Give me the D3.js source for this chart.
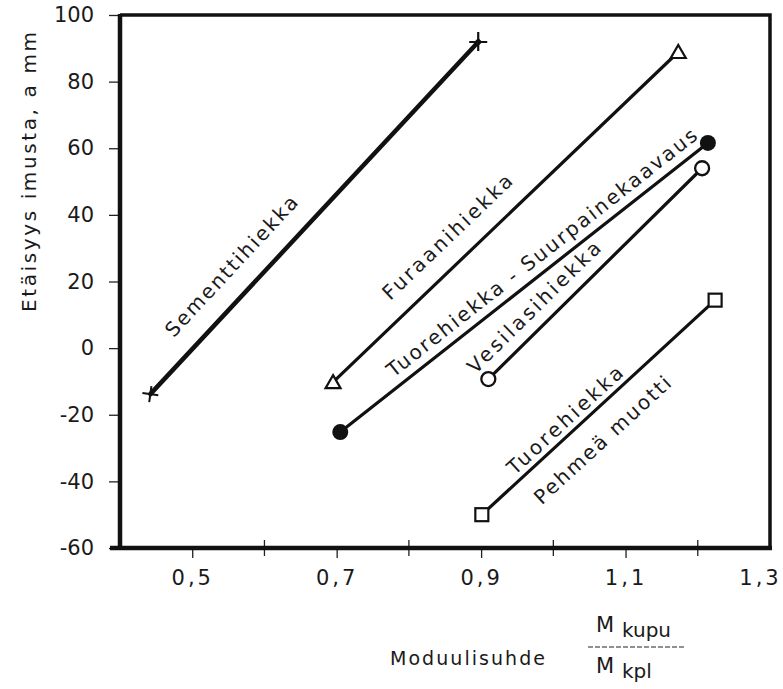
<!DOCTYPE html>
<html>
<head>
<meta charset="utf-8">
<script src="https://cdn.jsdelivr.net/npm/d3@7"></script>
<style>
  body { margin: 0; background: #fff; }
  text { font-family: "DejaVu Sans", sans-serif; fill: #1a1a1a; }
</style>
</head>
<body>
<div id="chart"></div>
<script>
"use strict";

// moduulisuhde (x) and etäisyys imusta (y) for each curve: [start, end]
const curveNames = ["Sementtihiekka", "Furaanihiekka", "Tuorehiekka - Suurpainekaavaus", "Vesilasihiekka", "Tuorehiekka / Pehmeä muotti"];
const moduuliX = [[0.442, 0.896], [0.695, 1.173], [0.705, 1.214], [0.91, 1.206], [0.901, 1.224]];
const etaisyysY = [[-13.8, 91.9], [-10.2, 88.9], [-25.2, 61.6], [-9.3, 54.0], [-50.0, 14.4]];
const startMarkers = ["plus", "triangle", "dot", "circle", "square"];
const endMarkers = ["star", "triangle", "dot", "circle", "square"];

const yTicks = [100, 80, 60, 40, 20, 0, -20, -40, -60];
const xMajorTicks = [0.5, 0.7, 0.9, 1.1, 1.3];
const xMinorTicks = [0.6, 0.8, 1.0, 1.2];

// text along the lines: label, curve index, centre in data units
const lineLabels = [
    { text: "Sementtihiekka", curve: 0, x: 0.554, y: 24.6, len: 184 },
    { text: "Furaanihiekka", curve: 1, x: 0.853, y: 33.4, len: 171 },
    { text: "Tuorehiekka - Suurpainekaavaus", curve: 2, x: 0.984, y: 28.7, len: 388 },
    { text: "Vesilasihiekka", curve: 3, x: 0.973, y: 12.3, len: 178 },
    { text: "Tuorehiekka", curve: 4, x: 1.016, y: -21.6, len: 149 },
    { text: "Pehmeä muotti", curve: 4, x: 1.068, y: -27.6, len: 178 }
];

const width = 783, height = 689;
const margin = { top: 15, right: 13, bottom: 141, left: 120 };

const svg = d3.select("#chart").append("svg")
    .attr("width", width)
    .attr("height", height);

const x = d3.scaleLinear()
    .domain([0.4, 1.3])
    .range([margin.left, width - margin.right]);

const y = d3.scaleLinear()
    .domain([-60, 100])
    .range([height - margin.bottom, margin.top]);

// **************** Frame and axes ****************
const x0 = x(0.4), x1 = x(1.3), y0 = y(-60), y1 = y(100);

svg.append("path")
    .attr("d", `M${x0},${y1} L${x1},${y1} L${x1},${y0}`)
    .attr("fill", "none")
    .attr("stroke", "#111")
    .attr("stroke-width", 3.5);

const yAxis = svg.append("g")
    .attr("transform", `translate(${x0},0)`)
    .call(d3.axisLeft(y).tickValues(yTicks).tickSize(11).tickPadding(15).tickFormat(d3.format("d")));

yAxis.select(".domain").remove();
yAxis.selectAll(".tick line").attr("stroke", "#222").attr("stroke-width", 1.3);
yAxis.selectAll(".tick text")
    .attr("font-size", 21)
    .attr("font-family", "DejaVu Sans, sans-serif")
    .attr("fill", "#1a1a1a")
    .text(d => d < 0 ? "-" + Math.abs(d) : d);

const xAxis = svg.append("g")
    .attr("transform", `translate(0,${y0})`)
    .call(d3.axisBottom(x).tickValues(xMajorTicks).tickSize(10).tickPadding(12)
        .tickFormat(d => d3.format(".1f")(d).replace(".", ",")));

xAxis.select(".domain").remove();
xAxis.selectAll(".tick line")
    .attr("stroke", "#222").attr("stroke-width", 1.3)
    .attr("display", d => d === 1.3 ? "none" : null);
xAxis.selectAll(".tick text")
    .attr("font-size", 21)
    .attr("letter-spacing", 3)
    .attr("dx", d => d === 1.3 ? -10 : 0)
    .attr("font-family", "DejaVu Sans, sans-serif")
    .attr("fill", "#1a1a1a");

svg.append("g").selectAll("line")
    .data(xMinorTicks)
    .join("line")
    .attr("x1", d => x(d)).attr("x2", d => x(d))
    .attr("y1", y0 - 8).attr("y2", y0 + 8)
    .attr("stroke", "#222")
    .attr("stroke-width", 1.3);

// heavy left and bottom axis lines
svg.append("line")
    .attr("x1", x0).attr("x2", x0)
    .attr("y1", y1 - 1).attr("y2", y0 + 2)
    .attr("stroke", "#111").attr("stroke-width", 4.5);
svg.append("line")
    .attr("x1", x0 - 10).attr("x2", x1 + 2)
    .attr("y1", y0).attr("y2", y0)
    .attr("stroke", "#111").attr("stroke-width", 4.5);

// axis titles
svg.append("text")
    .attr("transform", "translate(29,172) rotate(-90)")
    .attr("text-anchor", "middle")
    .attr("dy", "0.35em")
    .attr("font-size", 20)
    .attr("textLength", 280)
    .attr("lengthAdjust", "spacing")
    .text("Etäisyys imusta, a mm");

svg.append("text")
    .attr("x", 390)
    .attr("y", 665)
    .attr("font-size", 19)
    .attr("textLength", 155)
    .attr("lengthAdjust", "spacing")
    .text("Moduulisuhde");

const frac = svg.append("g").attr("transform", "translate(588,0)");
frac.append("text").attr("x", 8).attr("y", 632).attr("font-size", 21).text("M");
frac.append("text").attr("x", 34).attr("y", 637).attr("font-size", 20).text("kupu");
frac.append("line")
    .attr("x1", 0).attr("x2", 98).attr("y1", 647).attr("y2", 647)
    .attr("stroke", "#222").attr("stroke-width", 1.2)
    .attr("stroke-dasharray", "5,2");
frac.append("text").attr("x", 8).attr("y", 673).attr("font-size", 21).text("M");
frac.append("text").attr("x", 34).attr("y", 678).attr("font-size", 20).text("kpl");

// **************** Lines ****************
const curves = curveNames.map((name, i) => ({
    name: name,
    points: [
        { x: moduuliX[i][0], y: etaisyysY[i][0], marker: startMarkers[i] },
        { x: moduuliX[i][1], y: etaisyysY[i][1], marker: endMarkers[i] }
    ]
}));

const line = d3.line().x(d => x(d.x)).y(d => y(d.y));

svg.append("g").selectAll("path")
    .data(curves)
    .join("path")
    .attr("d", d => line(d.points))
    .attr("fill", "none")
    .attr("stroke", "#111")
    .attr("stroke-width", (d, i) => i === 0 ? 4.5 : 3.2)
    .attr("stroke-linecap", "round");

// **************** Markers ****************
function drawMarker(g, type) {
    if (type === "plus") {
        g.append("path").attr("d", "M-8,0 L8,0 M0,-8 L0,8")
            .attr("transform", "rotate(8)")
            .attr("stroke", "#111").attr("stroke-width", 2).attr("fill", "none");
    } else if (type === "star") {
        g.append("path").attr("d", "M-9,0 L9,0 M0,-10 L0,9")
            .attr("stroke", "#111").attr("stroke-width", 2.2).attr("fill", "none");
        g.append("path").attr("d", "M0,-4 L4,0 L0,4 L-4,0 Z").attr("fill", "#111");
    } else if (type === "triangle") {
        g.append("path").attr("d", "M0,-7 L7.5,6 L-7.5,6 Z")
            .attr("fill", "#fff").attr("stroke", "#111").attr("stroke-width", 2.2);
    } else if (type === "dot") {
        g.append("circle").attr("r", 8).attr("fill", "#111");
    } else if (type === "circle") {
        g.append("circle").attr("r", 7).attr("fill", "#fff")
            .attr("stroke", "#111").attr("stroke-width", 2.3);
    } else if (type === "square") {
        g.append("rect").attr("x", -6.5).attr("y", -6.5).attr("width", 13).attr("height", 13)
            .attr("fill", "#fff").attr("stroke", "#111").attr("stroke-width", 2.2);
    }
}

curves.forEach(c => {
    c.points.forEach(p => {
        const g = svg.append("g").attr("transform", `translate(${x(p.x)},${y(p.y)})`);
        drawMarker(g, p.marker);
    });
});

// **************** Labels along the lines ****************
svg.append("g").selectAll("text")
    .data(lineLabels)
    .join("text")
    .attr("transform", d => {
        const pts = curves[d.curve].points;
        const ang = Math.atan2(y(pts[1].y) - y(pts[0].y), x(pts[1].x) - x(pts[0].x)) * 180 / Math.PI;
        return `translate(${x(d.x)},${y(d.y)}) rotate(${ang})`;
    })
    .attr("text-anchor", "middle")
    .attr("dy", "0.35em")
    .attr("font-size", 20)
    .attr("textLength", d => d.len)
    .attr("lengthAdjust", "spacing")
    .text(d => d.text);
</script>
</body>
</html>
